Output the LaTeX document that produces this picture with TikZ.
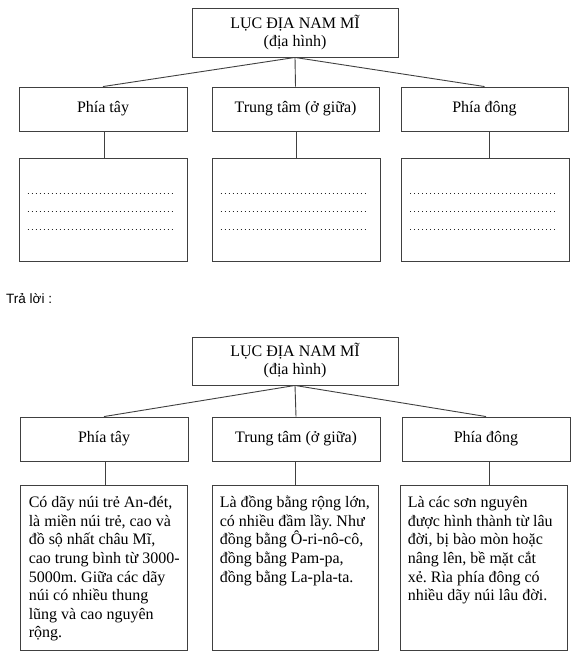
\documentclass[tikz,border=0pt]{standalone}
\usepackage{fontspec}
\setmainfont{Liberation Serif}
\newfontfamily\sansf{Liberation Sans}
\usetikzlibrary{calc}
\frenchspacing
\begin{document}
\frenchspacing
\begin{tikzpicture}[x=1pt,y=-1pt,
  bx/.style={draw=black!75, line width=0.9pt, inner sep=0pt, rectangle},
  lbl/.style={bx, font=\fontsize{16}{18}\selectfont, align=center},
  conn/.style={draw=black!75, line width=0.9pt},
  dots/.style={draw=black!85, line width=1pt, dash pattern=on 1pt off 3pt},
  ans/.style={anchor=north west, inner sep=0pt, align=left, font=\fontsize{16}{18.6}\selectfont}]
\useasboundingbox (0,0) rectangle (585,664);
\fill[white] (0,0) rectangle (585,664);

% ---------- top diagram ----------
\node[lbl, minimum width=206pt, minimum height=49pt] (r1) at (295,32.5) {LỤC ĐỊA NAM MĨ\\(địa hình)};
\node[lbl, minimum width=168pt, minimum height=44pt] (w2) at (103,109) {Phía tây};
\node[lbl, minimum width=167pt, minimum height=44pt] (c2) at (295.5,109) {Trung tâm (ở giữa)};
\node[lbl, minimum width=167pt, minimum height=44pt] (e2) at (484.5,109) {Phía đông};
\node[bx, minimum width=168pt, minimum height=103pt] (w3) at (103,209.5) {};
\node[bx, minimum width=168pt, minimum height=103pt] (c3) at (296,209.5) {};
\node[bx, minimum width=168pt, minimum height=103pt] (e3) at (485.5,209.5) {};

\coordinate (xa) at (104,0);
\coordinate (xb) at (296,0);
\coordinate (xc) at (489,0);

\draw[conn] (r1.south) -- (w2.north);
\draw[conn] (r1.south) -- (c2.north);
\draw[conn] (r1.south) -- (e2.north);
\draw[conn] (w2.south -| xa) -- (w3.north -| xa);
\draw[conn] (c2.south -| xb) -- (c3.north -| xb);
\draw[conn] (e2.south -| xc) -- (e3.north -| xc);

\foreach \b in {w3,c3,e3}{
  \foreach \d in {36,54,72}{
    \draw[dots] ($(\b.north west)+(9,\d)$) -- ($(\b.north east)+(-12,\d)$);
  }
}

\node[anchor=west, inner sep=0pt, font=\sansf\fontsize{13.5}{16}\selectfont] (tl) at (6,299) {Trả lời :};

% ---------- bottom diagram ----------
\node[lbl, minimum width=206pt, minimum height=48pt] (r2) at (295,361) {LỤC ĐỊA NAM MĨ\\(địa hình)};
\node[lbl, minimum width=168pt, minimum height=44pt] (w5) at (104,439) {Phía tây};
\node[lbl, minimum width=168pt, minimum height=44pt] (c5) at (296,439) {Trung tâm (ở giữa)};
\node[lbl, minimum width=168pt, minimum height=44pt] (e5) at (486,439) {Phía đông};
\node[bx, minimum width=167pt, minimum height=165pt] (w6) at (103.5,567.5) {};
\node[bx, minimum width=166pt, minimum height=165pt] (c6) at (295,567.5) {};
\node[bx, minimum width=167pt, minimum height=165pt] (e6) at (483.5,567.5) {};

\coordinate (ya) at (105,0);
\coordinate (yb) at (295,0);
\coordinate (yc) at (489,0);

\draw[conn] (r2.south) -- (w5.north);
\draw[conn] (r2.south) -- (c5.north);
\draw[conn] (r2.south) -- (e5.north);
\draw[conn] (w5.south -| ya) -- (w6.north -| ya);
\draw[conn] (c5.south -| yb) -- (c6.north -| yb);
\draw[conn] (e5.south -| yc) -- (e6.north -| yc);

\node[ans] (tw) at ($(w6.north west)+(9,8)$) {\rule{0pt}{15pt}Có dãy núi trẻ An-đét,\\là miền núi trẻ, cao và\\đồ sộ nhất châu Mĩ,\\cao trung bình từ 3000-\\5000m. Giữa các dãy\\núi có nhiều thung\\lũng và cao nguyên\\rộng.};
\node[ans] (tc) at ($(c6.north west)+(8,8)$) {\rule{0pt}{15pt}Là đồng bằng rộng lớn,\\có nhiều đầm lầy. Như\\đồng bằng Ô-ri-nô-cô,\\đồng bằng Pam-pa,\\đồng bằng La-pla-ta.};
\node[ans] (te) at ($(e6.north west)+(8,8)$) {\rule{0pt}{15pt}Là các sơn nguyên\\được hình thành từ lâu\\đời, bị bào mòn hoặc\\nâng lên, bề mặt cắt\\xẻ. Rìa phía đông có\\nhiều dãy núi lâu đời.};
\end{tikzpicture}
\end{document}
